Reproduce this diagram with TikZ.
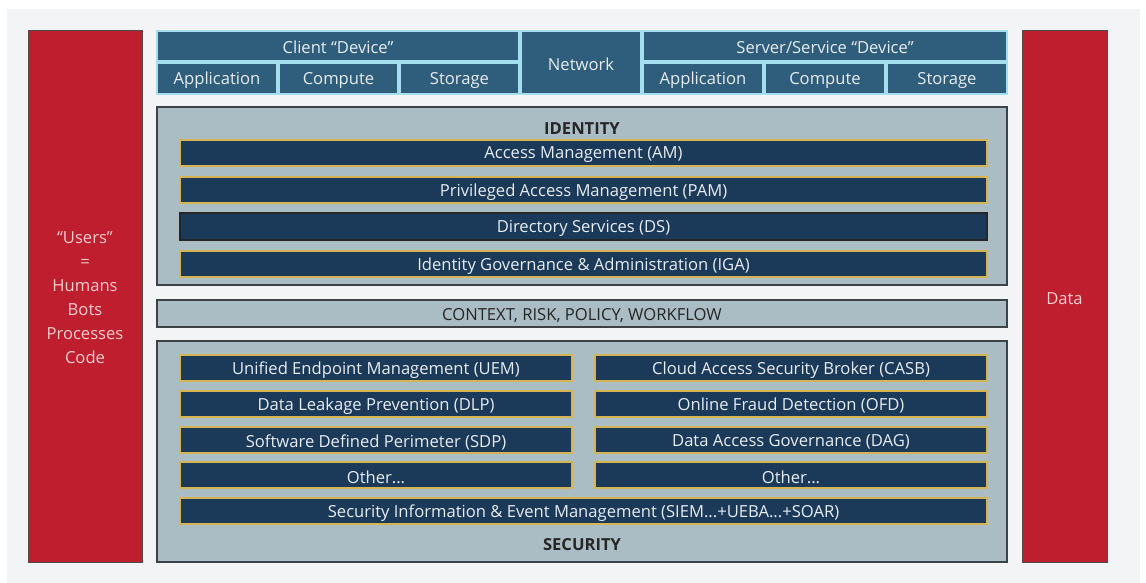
\documentclass[tikz,border=0pt]{standalone}
\usepackage{fontspec}
\setmainfont{Open Sans}
\definecolor{bgc}{RGB}{243,244,245}
\definecolor{redc}{RGB}{190,30,45}
\definecolor{steel}{RGB}{47,94,124}
\definecolor{cyanl}{RGB}{165,222,238}
\definecolor{panel}{RGB}{170,188,196}
\definecolor{navy}{RGB}{27,58,90}
\definecolor{gold}{RGB}{214,180,82}
\definecolor{txtw}{RGB}{232,236,240}
\definecolor{pinkt}{RGB}{244,205,208}
\definecolor{darkb}{RGB}{60,66,70}
\tikzset{
  x=1pt,y=-1pt,
  every node/.style={inner sep=0pt,outer sep=0pt,anchor=north west,font=\fontsize{16.6}{20}\selectfont},
  redbox/.style={fill=redc,draw=black!70,line width=1pt,text=pinkt,align=center},
  topbox/.style={fill=steel,draw=cyanl,line width=1.5pt,text=txtw},
  panelbox/.style={fill=panel,draw=darkb,line width=1.2pt},
  goldbar/.style={fill=navy,draw=gold,line width=1.5pt,text=txtw,minimum height=26pt},
  darkbar/.style={fill=navy,draw=black!85,line width=1.5pt,text=txtw,minimum height=27pt},
  plain/.style={text=black!85,anchor=center},
  bartext/.style={text=txtw,anchor=center,yshift=-2pt},
  heading/.style={text=black!85,anchor=center,font=\fontsize{16.6}{20}\selectfont\bfseries},
}
\begin{document}
\begin{tikzpicture}
\useasboundingbox (0,0) rectangle (1146,583);
\fill[white] (0,0) rectangle (1146,583);
\fill[bgc] (7,9) rectangle (1140,583);
% side boxes
\node[redbox,minimum width=114pt,minimum height=531pt] (users) at (28,31) {};
\node[plain,text=pinkt,align=center,font=\fontsize{16.6}{24}\selectfont] (userst) at (85,298) {``Users''\\=\\Humans\\Bots\\Processes\\Code};
\node[redbox,minimum width=85pt,minimum height=531pt] (data) at (1022,31) {};
\node[plain,text=pinkt] (datat) at (1064.5,299) {Data};
% top row
\node[topbox,minimum width=362pt,minimum height=30pt] (client) at (157,31) {};
\node[bartext,yshift=1pt] at (client.center) {Client ``Device''};
\node[topbox,minimum width=120pt,minimum height=31pt] (capp) at (157,63) {};
\node[bartext] at (capp.center) {Application};
\node[topbox,minimum width=119pt,minimum height=31pt] (ccomp) at (279,63) {};
\node[bartext] at (ccomp.center) {Compute};
\node[topbox,minimum width=119pt,minimum height=31pt] (cstor) at (400,63) {};
\node[bartext] at (cstor.center) {Storage};
\node[topbox,minimum width=120pt,minimum height=63pt] (net) at (521,31) {};
\node[bartext] at (net.center) {Network};
\node[topbox,minimum width=364pt,minimum height=30pt] (server) at (643,31) {};
\node[bartext,yshift=1pt] at (server.center) {Server/Service ``Device''};
\node[topbox,minimum width=120pt,minimum height=31pt] (sapp) at (643,63) {};
\node[bartext] at (sapp.center) {Application};
\node[topbox,minimum width=120pt,minimum height=31pt] (scomp) at (765,63) {};
\node[bartext] at (scomp.center) {Compute};
\node[topbox,minimum width=120pt,minimum height=31pt] (sstor) at (887,63) {};
\node[bartext] at (sstor.center) {Storage};
% identity
\node[panelbox,minimum width=850pt,minimum height=178pt] (idp) at (157,107) {};
\node[heading] (idt) at (582,129) {IDENTITY};
\node[goldbar,minimum width=807pt] (am) at (180,140) {};
\node[bartext] at (am.center) {Access Management (AM)};
\node[goldbar,minimum width=807pt] (pam) at (180,177) {};
\node[bartext] at (pam.center) {Privileged Access Management (PAM)};
\node[darkbar,minimum width=807pt] (ds) at (180,213) {};
\node[bartext] at (ds.center) {Directory Services (DS)};
\node[goldbar,minimum width=807pt] (iga) at (180,251) {};
\node[bartext] at (iga.center) {Identity Governance \& Administration (IGA)};
% context
\node[panelbox,minimum width=850pt,minimum height=27pt] (ctx) at (157,300) {};
\node[plain,yshift=-2pt] at (ctx.center) {CONTEXT, RISK, POLICY, WORKFLOW};
% security
\node[panelbox,minimum width=850pt,minimum height=221pt] (secp) at (157,341) {};
\node[goldbar,minimum width=392pt] (uem) at (180,355) {};
\node[bartext] at (uem.center) {Unified Endpoint Management (UEM)};
\node[goldbar,minimum width=392pt] (dlp) at (180,391) {};
\node[bartext] at (dlp.center) {Data Leakage Prevention (DLP)};
\node[goldbar,minimum width=392pt] (sdp) at (180,427) {};
\node[bartext] at (sdp.center) {Software Defined Perimeter (SDP)};
\node[goldbar,minimum width=392pt] (oth1) at (180,462) {};
\node[bartext] at (oth1.center) {Other...};
\node[goldbar,minimum width=392pt] (casb) at (595,355) {};
\node[bartext] at (casb.center) {Cloud Access Security Broker (CASB)};
\node[goldbar,minimum width=392pt] (ofd) at (595,391) {};
\node[bartext] at (ofd.center) {Online Fraud Detection (OFD)};
\node[goldbar,minimum width=392pt] (dag) at (595,427) {};
\node[bartext] at (dag.center) {Data Access Governance (DAG)};
\node[goldbar,minimum width=392pt] (oth2) at (595,462) {};
\node[bartext] at (oth2.center) {Other...};
\node[goldbar,minimum width=807pt] (siem) at (180,498) {};
\node[bartext] at (siem.center) {Security Information \& Event Management (SIEM...+UEBA...+SOAR)};
\node[heading] (sect) at (582,545) {SECURITY};
\end{tikzpicture}
\end{document}
